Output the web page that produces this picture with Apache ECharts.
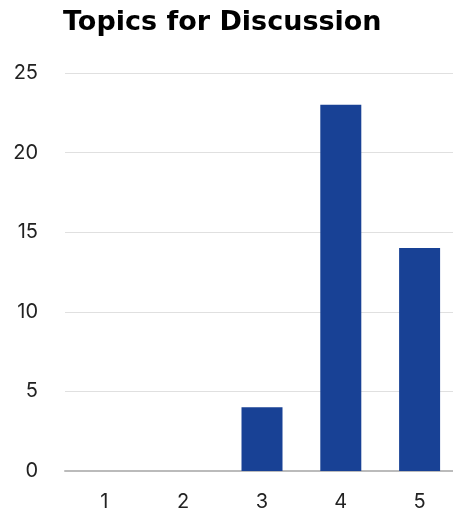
<!DOCTYPE html>
<html>
<head>
<meta charset="utf-8">
<script src="https://cdn.jsdelivr.net/npm/echarts@6/dist/echarts.min.js"></script>
<style>
  html, body { margin: 0; padding: 0; background: #fff; }
  #chart { width: 453px; height: 509px; }
</style>
</head>
<body>
<div id="chart"></div>
<script>
const categories = ['1', '2', '3', '4', '5']
const counts = [0, 0, 4, 23, 14]
const yTicks = { min: 0, max: 25, interval: 5 }

const myChart = echarts.init(document.getElementById('chart'))
let option = {
  animation: false,
  title: {
    text: 'Topics for Discussion',
    left: 58,
    top: 4,
    textStyle: {
      fontFamily: 'DejaVu Sans',
      fontWeight: 'bold',
      fontSize: 27,
      color: '#000',
    },
  },
  grid: {
    left: 65,
    right: -6,
    top: 73,
    bottom: 38,
    outerBoundsMode: 'none',
  },
  xAxis: {
    type: 'category',
    data: categories,
    axisTick: { show: false },
    axisLine: { lineStyle: { color: '#bbbbbb', width: 2 } },
    axisLabel: {
      color: '#222',
      fontFamily: 'Inter',
      fontSize: 20,
      margin: 21,
    },
  },
  yAxis: {
    type: 'value',
    min: yTicks.min,
    max: yTicks.max,
    interval: yTicks.interval,
    splitLine: { lineStyle: { color: '#e0e0e0', width: 1 } },
    axisLabel: {
      color: '#222',
      fontFamily: 'Inter',
      fontSize: 20,
      margin: 27,
    },
  },
  series: [{
    type: 'bar',
    data: counts,
    barWidth: 41,
    itemStyle: { color: '#184195' },
  }],
}
option && myChart.setOption(option)
</script>
</body>
</html>
